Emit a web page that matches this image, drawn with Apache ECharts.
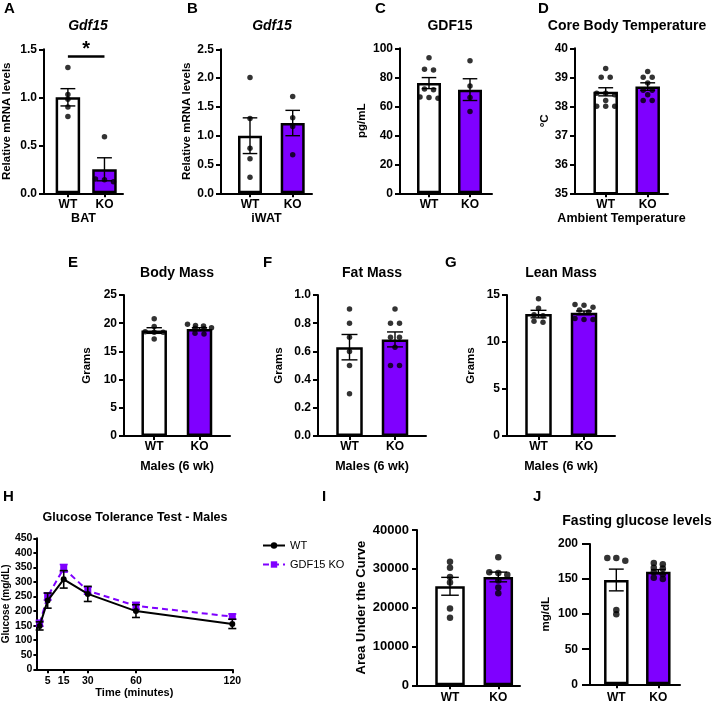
<!DOCTYPE html>
<html>
<head>
<meta charset="utf-8">
<script src="https://cdn.jsdelivr.net/npm/echarts@6/dist/echarts.min.js"></script>
<style>
html,body{margin:0;padding:0;background:#fff}
#chart{width:714px;height:705px}
</style>
</head>
<body>
<div id="chart"></div>
<script>
// groups on every bar panel
var groups = ['WT', 'KO'];

// A - Gdf15 BAT
var batMean = [1.0, 0.25], batSem = [0.09, 0.12];
var batWT = [1.31, 1.03, 0.98, 0.90, 0.80];
var batKO = [0.59, 0.15, 0.14, 0.12];
var batSig = 1.43;
// B - Gdf15 iWAT
var iwatMean = [1.0, 1.22], iwatSem = [0.31, 0.22];
var iwatWT = [2.01, 1.30, 0.78, 0.60, 0.28];
var iwatKO = [1.68, 1.31, 1.16, 0.67];
// C - serum GDF15
var serumMean = [76, 71.5], serumSem = [3.8, 7.5];
var serumWT = [93.5, 85.5, 85, 72, 71.5, 66.5, 66, 65.5];
var serumKO = [91.5, 74, 66, 56.5];
// D - core body temperature
var tempMean = [38.5, 38.68], tempSem = [0.14, 0.13];
var tempWT = [39.3, 39.0, 39.0, 38.45, 38.45, 38.4, 38.2, 38.0, 38.0, 38.0];
var tempKO = [39.2, 39.0, 39.0, 38.8, 38.55, 38.55, 38.4, 38.2, 38.2];
// E - body mass
var bodyMean = [18.7, 18.95], bodySem = [0.5, 0.25];
var bodyWT = [20.8, 19.4, 18.5, 18.4, 18.4, 17.2];
var bodyKO = [19.8, 19.6, 19.5, 19.2, 19.1, 19.0, 18.2, 18.1];
// F - fat mass
var fatMean = [0.63, 0.685], fatSem = [0.09, 0.053];
var fatWT = [0.90, 0.80, 0.70, 0.60, 0.50, 0.30];
var fatKO = [0.90, 0.80, 0.80, 0.70, 0.70, 0.63, 0.50, 0.50];
// G - lean mass
var leanMean = [12.97, 13.1], leanSem = [0.4, 0.2];
var leanWT = [14.6, 13.6, 12.9, 12.8, 12.2, 12.1];
var leanKO = [14.0, 13.9, 13.7, 13.4, 13.2, 12.5, 12.4, 12.4];
// H - glucose tolerance test
var gttTimes = [0, 5, 15, 30, 60, 120];
var gttWT = [149, 236, 309, 259, 200, 156];
var gttWTSem = [14, 26, 30, 26, 22, 16];
var gttKO = [158, 250, 347, 270, 218, 181];
var gttKOSem = [10, 12, 13, 12, 12, 9];
var gttTicks = [5, 15, 30, 60, 120];
// I - area under the curve
var aucMean = [25500, 27900], aucSem = [2300, 1250];
var aucWT = [31800, 30300, 27900, 26500, 19800, 17400];
var aucKO = [33000, 29100, 28900, 28500, 27000, 25200, 23700];
// J - fasting glucose
var fastMean = [148.7, 160.5], fastSem = [15.5, 3];
var fastWT = [180, 180, 176, 106, 100];
var fastKO = [173, 171, 166, 165, 160, 157, 152, 150];

var purple = '#7F00FF';
var FONT = 'Liberation Sans, Arial, sans-serif';

// layout of the bar panels (pixel positions of axis, bar centres, axis end)
var panels = [
  {letter:'A', lp:[4,1], title:'Gdf15', italic:true, tp:[88,19], ylab:'Relative mRNA levels', xlab:'BAT',
   mean:batMean, sem:batSem, wt:batWT, ko:batKO, ymin:0, ymax:1.5, step:0.5, dec:1,
   ax:42, c0:66.5, c1:104, xr:123, top:49.3, bot:193.3, bw:27, yGap:31, xGap:19, sig:batSig},
  {letter:'B', lp:[187,1], title:'Gdf15', italic:true, tp:[272,19], ylab:'Relative mRNA levels', xlab:'iWAT',
   mean:iwatMean, sem:iwatSem, wt:iwatWT, ko:iwatKO, ymin:0, ymax:2.5, step:0.5, dec:1,
   ax:221, c0:250, c1:292.7, xr:312, top:49.3, bot:193.3, bw:26.5, yGap:28, xGap:19},
  {letter:'C', lp:[375,1], title:'GDF15', tp:[450,19], ylab:'pg/mL', xlab:'',
   mean:serumMean, sem:serumSem, wt:serumWT, ko:serumKO, ymin:0, ymax:100, step:20, dec:0,
   ax:400, c0:429, c1:470, xr:492, top:48.3, bot:193.3, bw:26.5, yGap:32, xGap:19},
  {letter:'D', lp:[538,1], title:'Core Body Temperature', tp:[627,19], ylab:'ºC', xlab:'Ambient Temperature',
   mean:tempMean, sem:tempSem, wt:tempWT, ko:tempKO, ymin:35, ymax:40, step:1, dec:0,
   ax:575, c0:605.7, c1:647.7, xr:668, top:48.3, bot:193.3, bw:27, yGap:23, xGap:19},
  {letter:'E', lp:[68,255.5], title:'Body Mass', tp:[177,266], ylab:'Grams', xlab:'Males (6 wk)',
   mean:bodyMean, sem:bodySem, wt:bodyWT, ko:bodyKO, ymin:0, ymax:25, step:5, dec:0,
   ax:124, c0:154.2, c1:199.5, xr:230, top:295, bot:436, bw:28, yGap:31, xGap:24},
  {letter:'F', lp:[263,255.5], title:'Fat Mass', tp:[372,266], ylab:'Grams', xlab:'Males (6 wk)',
   mean:fatMean, sem:fatSem, wt:fatWT, ko:fatKO, ymin:0, ymax:1, step:0.2, dec:1,
   ax:318, c0:349.5, c1:395, xr:426, top:295, bot:436, bw:29, yGap:33, xGap:24},
  {letter:'G', lp:[445,255.5], title:'Lean Mass', tp:[561,266], ylab:'Grams', xlab:'Males (6 wk)',
   mean:leanMean, sem:leanSem, wt:leanWT, ko:leanKO, ymin:0, ymax:15, step:5, dec:0,
   ax:507, c0:538.5, c1:584, xr:615, top:295, bot:436, bw:29, yGap:30, xGap:24},
  {letter:'I', lp:[322,489.5], ylab:'Area Under the Curve', xlab:'',
   mean:aucMean, sem:aucSem, wt:aucWT, ko:aucKO, ymin:0, ymax:40000, step:10000, dec:0,
   ax:417, c0:450, c1:498.3, xr:520, top:530, bot:685.3, bw:32, yGap:49, xGap:20,
   tickFs:13, nameFs:13, dot:6.5, yMargin:8, xMargin:6},
  {letter:'J', lp:[533,489.5], title:'Fasting glucose levels', tp:[637,514], ylab:'mg/dL', xlab:'',
   mean:fastMean, sem:fastSem, wt:fastWT, ko:fastKO, ymin:0, ymax:200, step:50, dec:0,
   ax:590, c0:616.3, c1:658.3, xr:680, top:544, bot:684.3, bw:27, yGap:38, xGap:20,
   tickFs:12, nameFs:11.5, dot:6.5, yTick:8, yMargin:12, xMargin:7}
];

// spread points of similar value sideways, like a scatter dot plot
function swarm(vals, pxPerUnit) {
  var order = vals.map(function (v, i) { return i; }).sort(function (a, b) { return vals[b] - vals[a]; });
  var rows = [], cur = null;
  order.forEach(function (i) {
    if (cur && (vals[cur[0]] - vals[i]) * pxPerUnit < 3.5) cur.push(i);
    else { cur = [i]; rows.push(cur); }
  });
  var off = [];
  rows.forEach(function (r) {
    var n = r.length, sp = n > 1 ? Math.min(9, 24 / (n - 1)) : 0;
    r.forEach(function (i, k) { off[i] = (k - (n - 1) / 2) * sp; });
  });
  return off;
}

function errorRender(capW, color, lw) {
  return function (params, api) {
    var x = api.value(0), m = api.value(1), s = api.value(2);
    var hi = api.coord([x, m + s]), lo = api.coord([x, m - s]);
    var st = {stroke: color, lineWidth: lw};
    return {type: 'group', children: [
      {type: 'line', shape: {x1: hi[0], y1: hi[1], x2: lo[0], y2: lo[1]}, style: st},
      {type: 'line', shape: {x1: hi[0] - capW / 2, y1: hi[1], x2: hi[0] + capW / 2, y2: hi[1]}, style: st},
      {type: 'line', shape: {x1: lo[0] - capW / 2, y1: lo[1], x2: lo[0] + capW / 2, y2: lo[1]}, style: st}
    ]};
  };
}

var option = {
  animation: false,
  backgroundColor: '#fff',
  textStyle: {fontFamily: FONT},
  title: [], grid: [], xAxis: [], yAxis: [], series: [],
  legend: {
    data: ['WT', 'GDF15 KO'], orient: 'vertical', left: 262, top: 540,
    itemWidth: 22, itemHeight: 8, itemGap: 8, padding: 0,
    textStyle: {fontFamily: FONT, fontSize: 11, color: '#000'}
  }
};

function bold(fs) { return {fontFamily: FONT, fontWeight: 'bold', fontSize: fs, color: '#000'}; }

function addTitle(text, x, y, fs, italic, center) {
  var ts = bold(fs);
  if (italic) ts.fontStyle = 'italic';
  var t = {text: text, left: x, top: y, padding: 0, textStyle: ts};
  if (center) t.textAlign = 'center';
  option.title.push(t);
}

panels.forEach(function (p, k) {
  var span = p.c1 - p.c0;
  var tickFs = p.tickFs || 12, nameFs = p.nameFs || 11.5, dot = p.dot || 5.5;
  addTitle(p.letter, p.lp[0], p.lp[1], 15, false, false);
  if (p.title) addTitle(p.title, p.tp[0], p.tp[1], 14, p.italic, true);

  option.grid.push({left: p.ax, top: p.top, width: p.xr - p.ax, height: p.bot - p.top});
  option.xAxis.push({
    gridIndex: k, type: 'value',
    min: -(p.c0 - p.ax) / span, max: 1 + (p.xr - p.c1) / span,
    name: p.xlab, nameLocation: 'middle', nameGap: p.xGap, nameTextStyle: bold(12.5),
    axisLine: {show: true, onZero: false, lineStyle: {color: '#000', width: 2}},
    axisTick: {show: true, customValues: [0, 1], length: 4, lineStyle: {color: '#000', width: 2}},
    axisLabel: {customValues: [0, 1], margin: p.xMargin || 5, formatter: function (v) { return groups[Math.round(v)]; },
      fontFamily: FONT, fontWeight: 'bold', fontSize: 12, color: '#000'},
    splitLine: {show: false}
  });
  option.yAxis.push({
    gridIndex: k, type: 'value', min: p.ymin, max: p.ymax, interval: p.step,
    name: p.ylab, nameLocation: 'middle', nameGap: p.yGap, nameTextStyle: bold(nameFs),
    axisLine: {show: true, onZero: false, lineStyle: {color: '#000', width: 2}},
    axisTick: {show: true, length: p.yTick || 5, lineStyle: {color: '#000', width: 2}},
    axisLabel: {margin: p.yMargin || 7, fontFamily: FONT, fontWeight: 'bold', fontSize: tickFs, color: '#000',
      formatter: function (v) { return v.toFixed(p.dec); }},
    splitLine: {show: false}
  });

  var bar = {
    type: 'bar', xAxisIndex: k, yAxisIndex: k, barWidth: p.bw - 2.5, clip: true, silent: true,
    itemStyle: {borderColor: '#000', borderWidth: 2.5},
    data: [
      {value: [0, p.mean[0]], itemStyle: {color: '#fff'}},
      {value: [1, p.mean[1]], itemStyle: {color: purple}}
    ]
  };
  if (p.sig) {
    bar.markLine = {
      symbol: 'none', silent: true,
      lineStyle: {color: '#000', width: 2.5, type: 'solid'},
      label: {show: true, position: 'middle', formatter: '*', distance: -3,
        fontFamily: FONT, fontWeight: 'bold', fontSize: 20, color: '#000'},
      data: [[{coord: [0, p.sig]}, {coord: [1, p.sig]}]]
    };
  }
  option.series.push(bar);

  option.series.push({
    type: 'custom', xAxisIndex: k, yAxisIndex: k, silent: true, clip: false, z: 3,
    renderItem: errorRender(p.bw * 0.55, '#000', 1.4),
    encode: {x: 0, y: 1},
    data: [[0, p.mean[0], p.sem[0]], [1, p.mean[1], p.sem[1]]]
  });

  var ppu = (p.bot - p.top) / (p.ymax - p.ymin);
  [p.wt, p.ko].forEach(function (vals, g) {
    var off = swarm(vals, ppu);
    option.series.push({
      type: 'scatter', xAxisIndex: k, yAxisIndex: k, silent: true, z: 4,
      symbol: 'circle', symbolSize: dot, itemStyle: {color: '#000'},
      data: vals.map(function (v, i) { return {value: [g, v], symbolOffset: [off[i], 0]}; })
    });
  });
});

// H - glucose tolerance line chart
var hk = option.grid.length;
addTitle('H', 3, 489.5, 15, false, false);
addTitle('Glucose Tolerance Test - Males', 135, 511, 12.5, false, true);
option.grid.push({left: 33, top: 538.3, width: 199.3, height: 131});
option.xAxis.push({
  gridIndex: hk, type: 'value', min: -2, max: 120,
  name: 'Time (minutes)', nameLocation: 'middle', nameGap: 17, nameTextStyle: bold(11),
  axisLine: {show: true, onZero: false, lineStyle: {color: '#000', width: 2}},
  axisTick: {show: true, customValues: gttTicks, length: 4, lineStyle: {color: '#000', width: 2}},
  axisLabel: {customValues: gttTicks, margin: 6, fontFamily: FONT, fontWeight: 'bold', fontSize: 10.5, color: '#000'},
  splitLine: {show: false}
});
option.yAxis.push({
  gridIndex: hk, type: 'value', min: 0, max: 450, interval: 50,
  name: 'Glucose (mg/dL)', nameLocation: 'middle', nameGap: 25, nameTextStyle: bold(10),
  axisLine: {show: true, onZero: false, lineStyle: {color: '#000', width: 2}},
  axisTick: {show: true, length: 3, lineStyle: {color: '#000', width: 2}},
  axisLabel: {margin: 4, fontFamily: FONT, fontWeight: 'bold', fontSize: 10.5, color: '#000'},
  splitLine: {show: false}
});
option.series.push({
  type: 'custom', xAxisIndex: hk, yAxisIndex: hk, silent: true, clip: false, z: 2,
  renderItem: errorRender(8, purple, 1.6), encode: {x: 0, y: 1},
  data: gttTimes.map(function (t, i) { return [t, gttKO[i], gttKOSem[i]]; })
});
option.series.push({
  type: 'line', name: 'GDF15 KO', xAxisIndex: hk, yAxisIndex: hk, z: 3,
  symbol: 'rect', symbolSize: 7, itemStyle: {color: purple},
  lineStyle: {color: purple, width: 2, type: [6, 4]},
  data: gttTimes.map(function (t, i) { return [t, gttKO[i]]; })
});
option.series.push({
  type: 'custom', xAxisIndex: hk, yAxisIndex: hk, silent: true, clip: false, z: 4,
  renderItem: errorRender(8, '#000', 1.6), encode: {x: 0, y: 1},
  data: gttTimes.map(function (t, i) { return [t, gttWT[i], gttWTSem[i]]; })
});
option.series.push({
  type: 'line', name: 'WT', xAxisIndex: hk, yAxisIndex: hk, z: 5,
  symbol: 'circle', symbolSize: 6, itemStyle: {color: '#000'},
  lineStyle: {color: '#000', width: 2},
  data: gttTimes.map(function (t, i) { return [t, gttWT[i]]; })
});

var myChart = echarts.init(document.getElementById('chart'));
myChart.setOption(option);
</script>
</body>
</html>
